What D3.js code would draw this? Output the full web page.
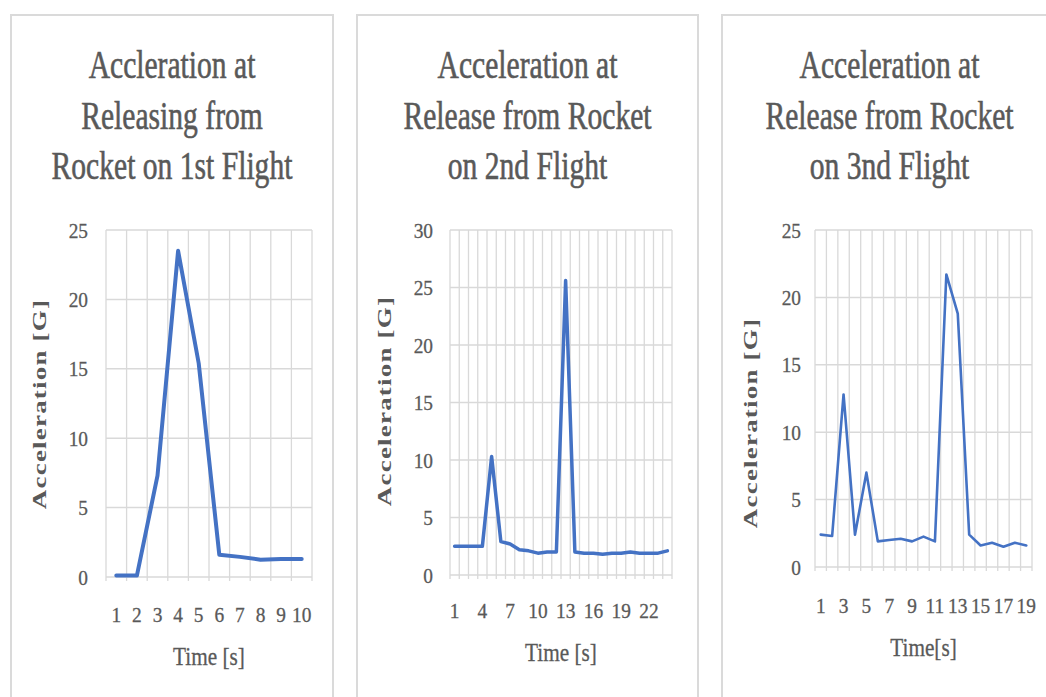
<!DOCTYPE html>
<html>
<head>
<meta charset="utf-8">
<script src="https://cdn.jsdelivr.net/npm/d3@7"></script>
<style>
  body { margin: 0; background: #fff; }
  svg { display: block; }
</style>
</head>
<body>
<svg id="chart" width="1046" height="697"></svg>
<script>
// --- data ---
const flight1Time = [1, 2, 3, 4, 5, 6, 7, 8, 9, 10];
const flight1Accel = [0.1, 0.1, 7.3, 23.5, 15.4, 1.6, 1.45, 1.25, 1.3, 1.3];

const flight2Time = [1, 2, 3, 4, 5, 6, 7, 8, 9, 10, 11, 12, 13, 14, 15, 16, 17, 18, 19, 20, 21, 22, 23, 24];
const flight2Accel = [2.5, 2.5, 2.5, 2.5, 10.3, 2.9, 2.7, 2.2, 2.1, 1.9, 2.0, 2.0, 25.6, 2.0, 1.9, 1.9, 1.8, 1.9, 1.9, 2.0, 1.9, 1.9, 1.9, 2.1];

const flight3Time = [1, 2, 3, 4, 5, 6, 7, 8, 9, 10, 11, 12, 13, 14, 15, 16, 17, 18, 19];
const flight3Accel = [2.4, 2.3, 12.8, 2.4, 7.0, 1.9, 2.0, 2.1, 1.9, 2.25, 1.9, 21.7, 18.8, 2.4, 1.6, 1.8, 1.5, 1.8, 1.6];

const titles = [
  ["Accleration at", "Releasing from", "Rocket on 1st Flight"],
  ["Acceleration at", "Release from Rocket", "on 2nd Flight"],
  ["Acceleration at", "Release from Rocket", "on 3nd Flight"]
];
const xTitles = ["Time [s]", "Time [s]", "Time[s]"];
const yTitle = "Acceleration [G]";
const yMaxes = [25, 30, 25];
const labelEvery = [1, 3, 2];

// --- layout ---
const layout = [
  { box: [11, 15, 322], cx: 172, plot: [106, 312, 230, 577], titleY: 78, xTickY: 622, xTitleY: 665, yTitle: [39, 404], yTickRight: 88, lw: 4 },
  { box: [357, 15, 341], cx: 527.5, plot: [450, 672, 230, 575], titleY: 78, xTickY: 618, xTitleY: 661, yTitle: [384, 401], yTickRight: 433, lw: 3.5 },
  { box: [722, 15, 340], cx: 889.5, plot: [815, 1032, 230, 567], titleY: 78, xTickY: 613, xTitleY: 656, yTitle: [750, 423], yTickRight: 801, lw: 2.6 }
];

const panels = [
  { time: flight1Time, accel: flight1Accel },
  { time: flight2Time, accel: flight2Accel },
  { time: flight3Time, accel: flight3Accel }
];

const grey = "#595959";
const gridColor = "#d9d9d9";
const lineColor = "#4472c4";
const serif = "'Liberation Serif', 'Times New Roman', serif";

const svg = d3.select("#chart");

// squashed text, like the narrow serif in the picture
function addText(g, x, y, str, size, sx, anchor, weight) {
  return g.append("text")
    .attr("transform", `translate(${x},${y}) scale(${sx},1)`)
    .attr("text-anchor", anchor || "middle")
    .attr("font-family", serif)
    .attr("font-size", size)
    .attr("fill", grey)
    .attr("stroke", grey)
    .attr("stroke-width", weight || 0.3)
    .text(str);
}

panels.forEach((p, i) => {
  const L = layout[i];
  const g = svg.append("g");

  // panel frame
  g.append("rect")
    .attr("x", L.box[0]).attr("y", L.box[1])
    .attr("width", L.box[2]).attr("height", 720)
    .attr("fill", "#fff")
    .attr("stroke", "#dadada")
    .attr("stroke-width", 2);

  // title
  titles[i].forEach((line, k) => addText(g, L.cx, L.titleY + k * 50.5, line, 40, 0.74, "middle", 0.6));

  const [px0, px1, py0, py1] = L.plot;
  const x = d3.scaleBand().domain(p.time).range([px0, px1]);
  const y = d3.scaleLinear().domain([0, yMaxes[i]]).range([py1, py0]);

  // vertical gridlines at category boundaries
  const bounds = p.time.map(t => x(t)).concat([px1]);
  g.append("g").selectAll("line").data(bounds).join("line")
    .attr("x1", d => d).attr("x2", d => d)
    .attr("y1", py0).attr("y2", py1 + 4)
    .attr("stroke", gridColor).attr("stroke-width", 1.3);

  // horizontal gridlines
  const yTicks = d3.range(0, yMaxes[i] + 1, 5);
  g.append("g").selectAll("line").data(yTicks).join("line")
    .attr("x1", px0).attr("x2", px1)
    .attr("y1", d => y(d)).attr("y2", d => y(d))
    .attr("stroke", gridColor).attr("stroke-width", 1.5);

  // y tick labels
  yTicks.forEach(v => addText(g, L.yTickRight, y(v) + 7.5, String(v), 22, 0.88, "end"));

  // x tick labels
  p.time.forEach((t, k) => {
    if (k % labelEvery[i] === 0) addText(g, x(t) + x.bandwidth() / 2, L.xTickY, String(t), 22, 0.88);
  });

  // axis titles
  addText(g, (px0 + px1) / 2, L.xTitleY, xTitles[i], 25, 0.85);
  g.append("text")
    .attr("transform", `translate(${L.yTitle[0]},${L.yTitle[1]}) scale(0.72,1) rotate(-90)`)
    .attr("text-anchor", "middle")
    .attr("dy", "0.35em")
    .attr("font-family", serif)
    .attr("font-weight", "bold")
    .attr("font-size", 27)
    .attr("letter-spacing", 1.2)
    .attr("fill", grey)
    .text(yTitle);

  // series line
  const line = d3.line()
    .x((d, k) => x(p.time[k]) + x.bandwidth() / 2)
    .y(d => y(d));
  g.append("path")
    .datum(p.accel)
    .attr("d", line)
    .attr("fill", "none")
    .attr("stroke", lineColor)
    .attr("stroke-width", L.lw)
    .attr("stroke-linejoin", "round")
    .attr("stroke-linecap", "round");
});
</script>
</body>
</html>
